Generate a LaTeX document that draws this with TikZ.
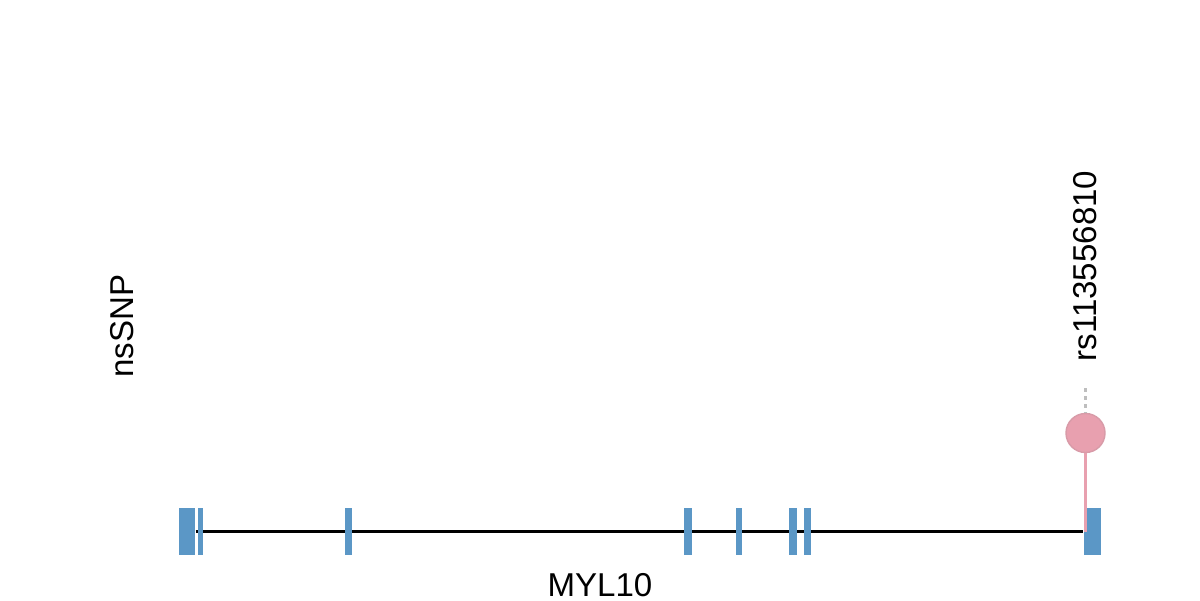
\documentclass[tikz,border=0pt]{standalone}
\usepackage{xcolor}
\usepackage{tikz}
\usepackage{fontspec}
\setmainfont{Liberation Sans}
\definecolor{exonblue}{RGB}{91,151,198}
\definecolor{snppink}{RGB}{232,160,175}
\definecolor{guidegray}{RGB}{190,190,190}
\usetikzlibrary{positioning, backgrounds}

\begin{document}
\begin{tikzpicture}[
  x=0.01cm, y=-0.01cm,
  exon/.style={fill=exonblue, draw=none, inner sep=0pt, minimum height=0.47cm},
  lolli/.style={circle, fill=snppink, draw=snppink!85!gray, inner sep=0pt, minimum size=0.39cm},
  lbl/.style={font=\fontsize{9.4}{11}\selectfont, inner sep=0pt}
]
  \useasboundingbox (0,0) rectangle (1200,600);

  % Baseline level of the gene track
  \def\trackY{531.5}

  % Exons, left to right
  \node[exon, minimum width=0.16cm] (ex1) at (187,\trackY) {};
  \node[exon, minimum width=0.05cm] (ex2) at (200.5,\trackY) {};
  \node[exon, minimum width=0.07cm] (ex3) at (348.5,\trackY) {};
  \node[exon, minimum width=0.08cm] (ex4) at (688,\trackY) {};
  \node[exon, minimum width=0.06cm] (ex5) at (739,\trackY) {};
  \node[exon, minimum width=0.08cm] (ex6) at (793,\trackY) {};
  \node[exon, minimum width=0.07cm] (ex7) at (807.5,\trackY) {};
  \node[exon, minimum width=0.17cm] (ex8) at (1092.5,\trackY) {};

  % Intron line across the gene, behind the exons
  \begin{pgfonlayer}{background}
    \draw[line width=0.6pt] (ex1.east) -- (ex8.west);
  \end{pgfonlayer}

  % Variant lollipop
  \coordinate (foot) at (1085.5,\trackY);
  \node[lolli] (snp) at (1085.5,433) {};
  \draw[snppink, line width=0.6pt] (snp.south) -- (foot);

  % Labels
  \node[lbl, rotate=90, anchor=west] (snplabel) at (1085.5,362) {rs113556810};
  \draw[guidegray, line width=0.8pt, dash pattern=on 0.04cm off 0.04cm] (snplabel.west) ++(0,26) -- (snp.north);
  \node[lbl, rotate=90] (track) at (122,326) {nsSNP};
  \node[lbl] (gene) at (600,585) {MYL10};
\end{tikzpicture}
\end{document}
